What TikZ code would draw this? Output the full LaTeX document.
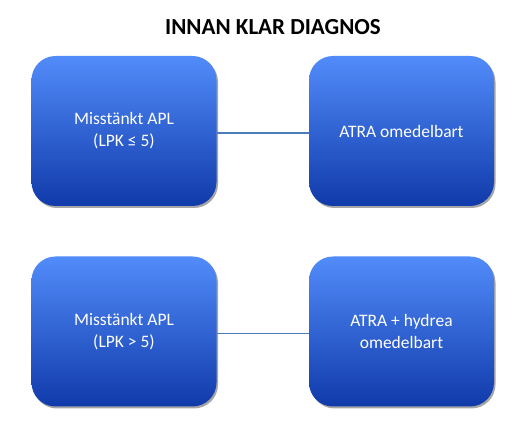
\documentclass[tikz,border=0pt]{standalone}
\usepackage{fontspec}
\setmainfont{Carlito}
\usetikzlibrary{shadows}
\definecolor{boxtop}{RGB}{82,140,250}
\definecolor{boxbot}{RGB}{16,58,170}
\definecolor{linecol}{RGB}{74,126,187}
\tikzset{
  bluebox/.style={rounded corners=24pt, minimum width=185pt, minimum height=150pt,
    top color=boxtop, bottom color=boxbot, draw=none, text=white, align=center,
    font=\fontsize{17.5}{22}\selectfont, inner sep=0pt,
    drop shadow={shadow xshift=1.5pt, shadow yshift=-2pt, fill=black, opacity=0.35}},
  conn/.style={draw=linecol, line width=1.2pt}
}
\begin{document}
\begin{tikzpicture}[x=1pt,y=1pt]
\useasboundingbox (0,0) rectangle (531,428);
\node[font=\fontsize{23}{27}\bfseries\selectfont] (title) at (273,401) {INNAN KLAR DIAGNOS};
\node[bluebox] (a) at (124,297) {Misstänkt APL\\(LPK ≤ 5)};
\node[bluebox] (b) at (401.5,297) {ATRA omedelbart};
\node[bluebox] (c) at (124,96.5) {Misstänkt APL\\(LPK > 5)};
\node[bluebox] (d) at (401.5,96.5) {ATRA + hydrea\\omedelbart};
\draw[conn] ([yshift=-2pt]a.east) -- ([yshift=-2pt]b.west);
\draw[conn] ([yshift=-2pt]c.east) -- ([yshift=-2pt]d.west);
\end{tikzpicture}
\end{document}
